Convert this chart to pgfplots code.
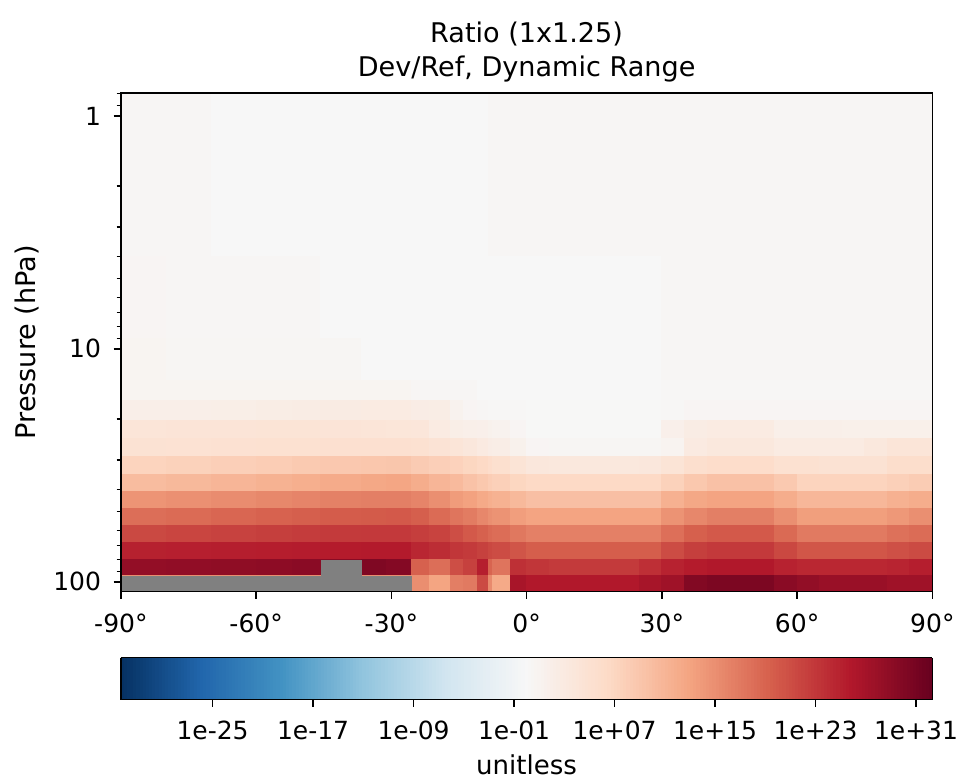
\documentclass[border=0pt]{standalone}
\usepackage{pgfplots}
\pgfplotsset{compat=1.18}
\usepackage{fontspec}
\setmainfont{DejaVu Sans}

\definecolor{nangray}{RGB}{128,128,128}
\pgfplotsset{
  colormap={rdbur}{rgb255=(5,48,97) rgb255=(33,102,172) rgb255=(67,147,195)
    rgb255=(146,197,222) rgb255=(209,229,240) rgb255=(247,247,247)
    rgb255=(253,219,199) rgb255=(244,165,130) rgb255=(214,96,77)
    rgb255=(178,24,43) rgb255=(103,0,31)},
}

\begin{document}
\begin{tikzpicture}
\begin{axis}[
  name=main,
  scale only axis,
  width=389.6pt, height=239.4pt,
  xmin=-90, xmax=90,
  ymode=log, ymin=0.797, ymax=110.1, y dir=reverse,
  xtick={-90,-60,...,90},
  xticklabels={-90°,-60°,-30°,0°,30°,60°,90°},
  ytick={1,10,100}, yticklabels={1,10,100},
  minor ytick={0.8,0.9,2,3,4,5,6,7,8,9,20,30,40,50,60,70,80,90},
  tick align=outside, xtick pos=left, ytick pos=left,
  major tick length=3.5pt, minor tick length=2pt,
  axis line style={line width=0.8pt},
  every major tick/.style={black, line width=0.8pt},
  every minor tick/.style={black, line width=0.6pt},
  tick label style={font=\fontsize{12}{14}\selectfont},
  xticklabel style={yshift=-3.5pt},
  yticklabel style={xshift=-2.5pt},
  axis on top,
  colormap name=rdbur,
  point meta min=-32.3, point meta max=32.3,
  every axis title/.style={at={(axis description cs:0.5,1)}, anchor=south,
    yshift=1.5pt, align=center, font=\fontsize{13}{16.3}\selectfont},
  title={Ratio (1x1.25)\\Dev/Ref, Dynamic Range},
  every axis y label/.style={at={(axis description cs:-0.1158,0.5)},
    rotate=90, anchor=center, font=\fontsize{13}{15}\selectfont},
  ylabel={Pressure (hPa)},
  colorbar horizontal,
  colorbar sampled,
  colorbar style={
    samples=256,
    at={(0.5,-0.1323)}, anchor=north,
    scale only axis, width=389.6pt, height=20.15pt,
    xtick={-25,-17,-9,-1,7,15,23,31},
    xticklabels={1e-25,1e-17,1e-09,1e-01,1e+07,1e+15,1e+23,1e+31},
    ytick=\empty,
    xtick pos=left, tick align=outside,
    major tick length=3.5pt,
    every major tick/.style={black, line width=0.8pt},
    axis line style={line width=0.8pt},
    tick label style={font=\fontsize{12}{14}\selectfont},
    xticklabel style={yshift=-3.5pt},
    xlabel={unitless},
    xlabel style={font=\fontsize{12.5}{15}\selectfont},
  },
]
% cell value (log10 of the ratio) sits on the lower-lat / lower-pressure corner
\addplot[surf, shader=flat corner, point meta=explicit, mesh/cols=35] coordinates {
(-90,0.797)[0.4] (-80,0.797)[0.4] (-70,0.797)[0.05] (-60,0.797)[0.05] (-52,0.797)[0.05] (-45.7,0.797)[0.05] (-36.6,0.797)[0.05] (-31,0.797)[0.05] (-25.5,0.797)[0.05] (-21.5,0.797)[0.05] (-17,0.797)[0.05] (-14,0.797)[0.05] (-11,0.797)[0.05] (-8.5,0.797)[0.4] (-7.5,0.797)[0.4] (-3.5,0.797)[0.4] (0,0.797)[0.4] (5,0.797)[0.4] (10,0.797)[0.4] (15,0.797)[0.4] (20,0.797)[0.4] (25,0.797)[0.4] (30,0.797)[0.4] (35,0.797)[0.4] (40,0.797)[0.4] (45,0.797)[0.4] (50,0.797)[0.4] (55,0.797)[0.4] (60,0.797)[0.4] (65,0.797)[0.4] (70,0.797)[0.4] (75,0.797)[0.4] (80,0.797)[0.4] (85,0.797)[0.4] (90,0.797)[0.4]

(-90,4)[0.6] (-80,4)[0.4] (-70,4)[0.4] (-60,4)[0.4] (-52,4)[0.4] (-45.7,4)[0.05] (-36.6,4)[0.05] (-31,4)[0.05] (-25.5,4)[0.05] (-21.5,4)[0.05] (-17,4)[0.05] (-14,4)[0.05] (-11,4)[0.05] (-8.5,4)[0.05] (-7.5,4)[0.05] (-3.5,4)[0.05] (0,4)[0.05] (5,4)[0.05] (10,4)[0.05] (15,4)[0.05] (20,4)[0.05] (25,4)[0.05] (30,4)[0.4] (35,4)[0.4] (40,4)[0.4] (45,4)[0.4] (50,4)[0.4] (55,4)[0.4] (60,4)[0.4] (65,4)[0.4] (70,4)[0.4] (75,4)[0.4] (80,4)[0.4] (85,4)[0.4] (90,4)[0.4]

(-90,9)[0.8] (-80,9)[0.5] (-70,9)[0.5] (-60,9)[0.5] (-52,9)[0.5] (-45.7,9)[0.5] (-36.6,9)[0.05] (-31,9)[0.05] (-25.5,9)[0.05] (-21.5,9)[0.05] (-17,9)[0.05] (-14,9)[0.05] (-11,9)[0.05] (-8.5,9)[0.05] (-7.5,9)[0.05] (-3.5,9)[0.05] (0,9)[0.05] (5,9)[0.05] (10,9)[0.05] (15,9)[0.05] (20,9)[0.05] (25,9)[0.05] (30,9)[0.4] (35,9)[0.4] (40,9)[0.4] (45,9)[0.4] (50,9)[0.4] (55,9)[0.4] (60,9)[0.4] (65,9)[0.4] (70,9)[0.4] (75,9)[0.4] (80,9)[0.4] (85,9)[0.4] (90,9)[0.4]

(-90,13.6)[0.8] (-80,13.6)[0.8] (-70,13.6)[0.8] (-60,13.6)[0.8] (-52,13.6)[0.8] (-45.7,13.6)[0.8] (-36.6,13.6)[0.8] (-31,13.6)[0.8] (-25.5,13.6)[0.4] (-21.5,13.6)[0.4] (-17,13.6)[0.4] (-14,13.6)[0.4] (-11,13.6)[0.05] (-8.5,13.6)[0.05] (-7.5,13.6)[0.05] (-3.5,13.6)[0.05] (0,13.6)[0.05] (5,13.6)[0.05] (10,13.6)[0.05] (15,13.6)[0.05] (20,13.6)[0.05] (25,13.6)[0.05] (30,13.6)[0.35] (35,13.6)[0.35] (40,13.6)[0.35] (45,13.6)[0.35] (50,13.6)[0.35] (55,13.6)[0.35] (60,13.6)[0.35] (65,13.6)[0.35] (70,13.6)[0.35] (75,13.6)[0.35] (80,13.6)[0.35] (85,13.6)[0.35] (90,13.6)[0.35]

(-90,16.7)[2.0] (-80,16.7)[2.1] (-70,16.7)[2.2] (-60,16.7)[2.4] (-52,16.7)[2.6] (-45.7,16.7)[2.7] (-36.6,16.7)[2.8] (-31,16.7)[2.8] (-25.5,16.7)[2.5] (-21.5,16.7)[2.4] (-17,16.7)[1.2] (-14,16.7)[0.6] (-11,16.7)[0.4] (-8.5,16.7)[0.3] (-7.5,16.7)[0.3] (-3.5,16.7)[0.3] (0,16.7)[0.1] (5,16.7)[0.1] (10,16.7)[0.1] (15,16.7)[0.1] (20,16.7)[0.1] (25,16.7)[0.1] (30,16.7)[0.3] (35,16.7)[0.6] (40,16.7)[0.6] (45,16.7)[0.6] (50,16.7)[0.6] (55,16.7)[0.6] (60,16.7)[0.6] (65,16.7)[0.6] (70,16.7)[0.6] (75,16.7)[0.6] (80,16.7)[0.6] (85,16.7)[0.6] (90,16.7)[0.6]

(-90,20.2)[4.2] (-80,20.2)[4.3] (-70,20.2)[4.3] (-60,20.2)[4.4] (-52,20.2)[4.4] (-45.7,20.2)[4.3] (-36.6,20.2)[4.2] (-31,20.2)[4.0] (-25.5,20.2)[3.9] (-21.5,20.2)[2.9] (-17,20.2)[2.2] (-14,20.2)[1.9] (-11,20.2)[1.8] (-8.5,20.2)[1.5] (-7.5,20.2)[1.2] (-3.5,20.2)[0.6] (0,20.2)[0.1] (5,20.2)[0.1] (10,20.2)[0.1] (15,20.2)[0.1] (20,20.2)[0.1] (25,20.2)[0.1] (30,20.2)[1.8] (35,20.2)[2.6] (40,20.2)[2.8] (45,20.2)[2.8] (50,20.2)[2.8] (55,20.2)[1.9] (60,20.2)[1.9] (65,20.2)[1.9] (70,20.2)[1.7] (75,20.2)[1.7] (80,20.2)[1.7] (85,20.2)[1.7] (90,20.2)[1.7]

(-90,24.2)[4.8] (-80,24.2)[4.9] (-70,24.2)[5.0] (-60,24.2)[5.1] (-52,24.2)[5.2] (-45.7,24.2)[5.3] (-36.6,24.2)[5.3] (-31,24.2)[5.3] (-25.5,24.2)[5.1] (-21.5,24.2)[4.6] (-17,24.2)[4.2] (-14,24.2)[3.6] (-11,24.2)[3.0] (-8.5,24.2)[2.5] (-7.5,24.2)[2.3] (-3.5,24.2)[1.5] (0,24.2)[0.6] (5,24.2)[0.5] (10,24.2)[0.5] (15,24.2)[0.5] (20,24.2)[0.5] (25,24.2)[0.5] (30,24.2)[1.0] (35,24.2)[3.0] (40,24.2)[3.5] (45,24.2)[3.5] (50,24.2)[3.5] (55,24.2)[2.8] (60,24.2)[2.8] (65,24.2)[2.8] (70,24.2)[2.8] (75,24.2)[3.5] (80,24.2)[4.2] (85,24.2)[4.2] (90,24.2)[4.2]

(-90,29.0)[7.3] (-80,29.0)[7.6] (-70,29.0)[7.9] (-60,29.0)[8.2] (-52,29.0)[8.5] (-45.7,29.0)[8.7] (-36.6,29.0)[8.9] (-31,29.0)[9.0] (-25.5,29.0)[8.4] (-21.5,29.0)[7.9] (-17,29.0)[7.5] (-14,29.0)[7.0] (-11,29.0)[6.6] (-8.5,29.0)[6.0] (-7.5,29.0)[5.4] (-3.5,29.0)[4.5] (0,29.0)[3.6] (5,29.0)[3.5] (10,29.0)[3.5] (15,29.0)[3.5] (20,29.0)[3.5] (25,29.0)[3.7] (30,29.0)[4.5] (35,29.0)[5.6] (40,29.0)[6.0] (45,29.0)[6.0] (50,29.0)[6.0] (55,29.0)[5.2] (60,29.0)[5.2] (65,29.0)[4.8] (70,29.0)[4.8] (75,29.0)[4.8] (80,29.0)[5.8] (85,29.0)[5.8] (90,29.0)[5.8]

(-90,34.5)[10.2] (-80,34.5)[10.6] (-70,34.5)[11.0] (-60,34.5)[11.4] (-52,34.5)[11.8] (-45.7,34.5)[12.2] (-36.6,34.5)[12.6] (-31,34.5)[12.8] (-25.5,34.5)[12.0] (-21.5,34.5)[11.0] (-17,34.5)[10.4] (-14,34.5)[9.5] (-11,34.5)[8.8] (-8.5,34.5)[8.2] (-7.5,34.5)[7.8] (-3.5,34.5)[7.0] (0,34.5)[6.6] (5,34.5)[6.6] (10,34.5)[6.6] (15,34.5)[6.6] (20,34.5)[6.6] (25,34.5)[6.6] (30,34.5)[7.6] (35,34.5)[8.8] (40,34.5)[9.6] (45,34.5)[9.6] (50,34.5)[9.6] (55,34.5)[8.6] (60,34.5)[7.3] (65,34.5)[7.3] (70,34.5)[7.3] (75,34.5)[7.3] (80,34.5)[7.8] (85,34.5)[8.3] (90,34.5)[8.3]

(-90,41.0)[14.5] (-80,41.0)[14.9] (-70,41.0)[15.3] (-60,41.0)[15.7] (-52,41.0)[16.0] (-45.7,41.0)[16.3] (-36.6,41.0)[16.5] (-31,41.0)[16.5] (-25.5,41.0)[16.0] (-21.5,41.0)[15.0] (-17,41.0)[13.8] (-14,41.0)[13.2] (-11,41.0)[12.4] (-8.5,41.0)[11.8] (-7.5,41.0)[11.4] (-3.5,41.0)[10.6] (0,41.0)[9.8] (5,41.0)[9.8] (10,41.0)[9.8] (15,41.0)[9.8] (20,41.0)[9.8] (25,41.0)[9.8] (30,41.0)[11.5] (35,41.0)[12.6] (40,41.0)[13.0] (45,41.0)[13.0] (50,41.0)[13.0] (55,41.0)[12.0] (60,41.0)[10.8] (65,41.0)[10.8] (70,41.0)[10.8] (75,41.0)[10.8] (80,41.0)[11.5] (85,41.0)[12.0] (90,41.0)[12.0]

(-90,48.6)[18.1] (-80,48.6)[18.4] (-70,48.6)[18.8] (-60,48.6)[19.2] (-52,48.6)[19.5] (-45.7,48.6)[19.8] (-36.6,48.6)[19.9] (-31,48.6)[20.0] (-25.5,48.6)[19.5] (-21.5,48.6)[18.4] (-17,48.6)[17.4] (-14,48.6)[16.8] (-11,48.6)[15.8] (-8.5,48.6)[15.0] (-7.5,48.6)[14.6] (-3.5,48.6)[13.6] (0,48.6)[13.0] (5,48.6)[13.0] (10,48.6)[13.0] (15,48.6)[13.0] (20,48.6)[13.0] (25,48.6)[13.0] (30,48.6)[14.6] (35,48.6)[15.8] (40,48.6)[16.5] (45,48.6)[16.5] (50,48.6)[16.5] (55,48.6)[15.0] (60,48.6)[13.5] (65,48.6)[13.5] (70,48.6)[13.5] (75,48.6)[13.5] (80,48.6)[14.2] (85,48.6)[15.0] (90,48.6)[15.0]

(-90,57.3)[21.5] (-80,57.3)[21.8] (-70,57.3)[22.1] (-60,57.3)[22.4] (-52,57.3)[22.6] (-45.7,57.3)[22.8] (-36.6,57.3)[22.9] (-31,57.3)[22.9] (-25.5,57.3)[22.5] (-21.5,57.3)[22.0] (-17,57.3)[21.0] (-14,57.3)[20.0] (-11,57.3)[19.3] (-8.5,57.3)[18.6] (-7.5,57.3)[18.2] (-3.5,57.3)[17.2] (0,57.3)[16.4] (5,57.3)[16.4] (10,57.3)[16.4] (15,57.3)[16.4] (20,57.3)[16.4] (25,57.3)[16.4] (30,57.3)[18.0] (35,57.3)[19.4] (40,57.3)[20.0] (45,57.3)[20.0] (50,57.3)[20.0] (55,57.3)[18.5] (60,57.3)[17.0] (65,57.3)[17.0] (70,57.3)[17.0] (75,57.3)[17.0] (80,57.3)[17.8] (85,57.3)[18.3] (90,57.3)[18.3]

(-90,67.8)[25.1] (-80,67.8)[25.2] (-70,67.8)[25.3] (-60,67.8)[25.4] (-52,67.8)[25.5] (-45.7,67.8)[25.6] (-36.6,67.8)[25.7] (-31,67.8)[25.7] (-25.5,67.8)[24.6] (-21.5,67.8)[24.0] (-17,67.8)[23.2] (-14,67.8)[22.8] (-11,67.8)[22.2] (-8.5,67.8)[21.6] (-7.5,67.8)[21.2] (-3.5,67.8)[20.4] (0,67.8)[19.6] (5,67.8)[19.6] (10,67.8)[19.6] (15,67.8)[19.6] (20,67.8)[19.6] (25,67.8)[19.6] (30,67.8)[21.2] (35,67.8)[22.4] (40,67.8)[22.9] (45,67.8)[22.9] (50,67.8)[22.9] (55,67.8)[21.6] (60,67.8)[20.3] (65,67.8)[20.3] (70,67.8)[20.3] (75,67.8)[20.3] (80,67.8)[20.8] (85,67.8)[21.3] (90,67.8)[21.3]

(-90,80.4)[28.5] (-80,80.4)[28.7] (-70,80.4)[28.9] (-60,80.4)[29.1] (-52,80.4)[29.3] (-45.7,80.4)[29.5] (-36.6,80.4)[30.3] (-31,80.4)[29.8] (-25.5,80.4)[19.3] (-21.5,80.4)[18.1] (-17,80.4)[21.0] (-14,80.4)[22.2] (-11,80.4)[25.3] (-8.5,80.4)[19.0] (-7.5,80.4)[17.5] (-3.5,80.4)[23.7] (0,80.4)[23.2] (5,80.4)[22.8] (10,80.4)[22.8] (15,80.4)[22.8] (20,80.4)[22.8] (25,80.4)[23.8] (30,80.4)[25.0] (35,80.4)[25.6] (40,80.4)[26.0] (45,80.4)[26.0] (50,80.4)[26.0] (55,80.4)[25.0] (60,80.4)[24.5] (65,80.4)[24.5] (70,80.4)[24.5] (75,80.4)[24.5] (80,80.4)[24.8] (85,80.4)[25.3] (90,80.4)[25.3]

(-90,94.2)[15] (-80,94.2)[15] (-70,94.2)[15] (-60,94.2)[15] (-52,94.2)[15] (-45.7,94.2)[15] (-36.6,94.2)[15] (-31,94.2)[15] (-25.5,94.2)[15.1] (-21.5,94.2)[12.9] (-17,94.2)[16.6] (-14,94.2)[17.0] (-11,94.2)[21.4] (-8.5,94.2)[15.5] (-7.5,94.2)[12.4] (-3.5,94.2)[26.7] (0,94.2)[26.0] (5,94.2)[26.0] (10,94.2)[26.0] (15,94.2)[26.0] (20,94.2)[26.0] (25,94.2)[26.8] (30,94.2)[27.5] (35,94.2)[30.0] (40,94.2)[30.5] (45,94.2)[30.5] (50,94.2)[30.5] (55,94.2)[29.3] (60,94.2)[28.6] (65,94.2)[28.0] (70,94.2)[28.0] (75,94.2)[28.0] (80,94.2)[27.5] (85,94.2)[27.5] (90,94.2)[27.5]

(-90,110.1)[0] (-80,110.1)[0] (-70,110.1)[0] (-60,110.1)[0] (-52,110.1)[0] (-45.7,110.1)[0] (-36.6,110.1)[0] (-31,110.1)[0] (-25.5,110.1)[0] (-21.5,110.1)[0] (-17,110.1)[0] (-14,110.1)[0] (-11,110.1)[0] (-8.5,110.1)[0] (-7.5,110.1)[0] (-3.5,110.1)[0] (0,110.1)[0] (5,110.1)[0] (10,110.1)[0] (15,110.1)[0] (20,110.1)[0] (25,110.1)[0] (30,110.1)[0] (35,110.1)[0] (40,110.1)[0] (45,110.1)[0] (50,110.1)[0] (55,110.1)[0] (60,110.1)[0] (65,110.1)[0] (70,110.1)[0] (75,110.1)[0] (80,110.1)[0] (85,110.1)[0] (90,110.1)[0]
};
% missing values
\addplot[fill=nangray, draw=none, mark=none] coordinates {(-90,94.2) (-25.5,94.2) (-25.5,110.1) (-90,110.1)};
\addplot[fill=nangray, draw=none, mark=none] coordinates {(-45.7,80.4) (-36.6,80.4) (-36.6,94.2) (-45.7,94.2)};
\end{axis}
\path (main.north west) ++(-58.05pt,44.62pt) rectangle ++(463pt,-373.76pt);
\end{tikzpicture}
\end{document}
